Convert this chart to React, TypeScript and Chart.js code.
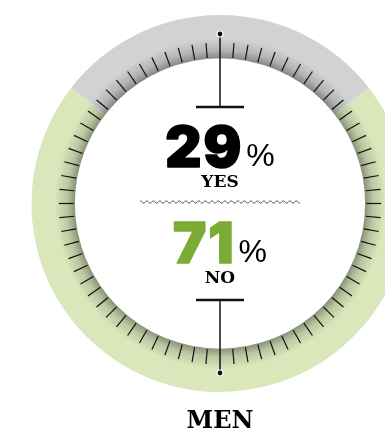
import React, { useEffect, useRef } from "react";
import { Chart, registerables } from "chart.js";
Chart.register(...registerables);

const categories = ["YES", "NO"];
const values = [29, 71];
const ringColors = ["#d1d2d4", "#d9e7bb"];
const valueColors = ["#000000", "#7aac36"];
const groupTitle = "MEN";
const tickStepDeg = 5;

export default function App() {
  const ref = useRef<HTMLCanvasElement>(null);

  useEffect(() => {
    const canvas = ref.current!;
    const total = values.reduce((a, b) => a + b, 0);
    const rotation = -((values[0] / total) * 360) / 2;

    const gaugePlugin = {
      id: "gauge",
      afterDatasetsDraw(chart: any) {
        const arc = chart.getDatasetMeta(0).data[0] as any;
        const cx = arc.x, cy = arc.y, ri = arc.innerRadius, ro = arc.outerRadius;
        const ctx = chart.ctx as CanvasRenderingContext2D;
        ctx.save();
        // inner shadow
        const sw = 20;
        const g = ctx.createRadialGradient(cx, cy, ri, cx, cy, ri + sw);
        g.addColorStop(0, "rgba(0,0,0,0.36)");
        g.addColorStop(0.4, "rgba(0,0,0,0.14)");
        g.addColorStop(1, "rgba(0,0,0,0)");
        ctx.beginPath();
        ctx.arc(cx, cy, ri + sw, 0, Math.PI * 2);
        ctx.arc(cx, cy, ri, 0, Math.PI * 2, true);
        ctx.fillStyle = g;
        ctx.fill();

        // ticks
        ctx.strokeStyle = "#111";
        ctx.lineWidth = 1.2;
        for (let a = 0; a < 360; a += tickStepDeg) {
          if (a % 180 === 0) continue;
          const t = ((a - 90) * Math.PI) / 180;
          ctx.beginPath();
          ctx.moveTo(cx + Math.cos(t) * (ri + 1), cy + Math.sin(t) * (ri + 1));
          ctx.lineTo(cx + Math.cos(t) * (ri + 16), cy + Math.sin(t) * (ri + 16));
          ctx.stroke();
        }

        // center needles
        const dotR = ro - 19;
        const barY = 96.5;
        for (const s of [-1, 1]) {
          ctx.strokeStyle = "#111";
          ctx.lineWidth = 1.5;
          ctx.beginPath();
          ctx.moveTo(cx, cy + s * dotR);
          ctx.lineTo(cx, cy + s * barY);
          ctx.stroke();
          ctx.lineWidth = 2.5;
          ctx.beginPath();
          ctx.moveTo(cx - 24, cy + s * barY);
          ctx.lineTo(cx + 24, cy + s * barY);
          ctx.stroke();
          ctx.beginPath();
          ctx.arc(cx, cy + s * dotR, 3.6, 0, Math.PI * 2);
          ctx.fillStyle = "#ffffff";
          ctx.fill();
          ctx.beginPath();
          ctx.arc(cx, cy + s * dotR, 2.4, 0, Math.PI * 2);
          ctx.fillStyle = "#111";
          ctx.fill();
        }

        // wavy divider
        ctx.strokeStyle = "#333";
        ctx.lineWidth = 0.9;
        ctx.beginPath();
        for (let x = -80; x <= 80; x += 0.5) {
          const y = cy - 1.5 + Math.sin((x / 6.5) * Math.PI * 2) * 1.1;
          if (x === -80) ctx.moveTo(cx + x, y);
          else ctx.lineTo(cx + x, y);
        }
        ctx.stroke();

        // values and labels
        const numFont = "900 56px Inter, Lato, 'DejaVu Sans'";
        const pctFont = "300 32px 'Liberation Sans', 'DejaVu Sans'";
        const drawValue = (i: number, baseline: number, labelBaseline: number) => {
          const num = String(values[i]);
          (ctx as any).letterSpacing = "2px";
          ctx.font = numFont;
          const wNum = ctx.measureText(num).width;
          (ctx as any).letterSpacing = "0px";
          ctx.font = pctFont;
          const wPct = ctx.measureText("%").width;
          const gap = 3;
          const left = cx - (wNum + gap + wPct) / 2;
          ctx.textAlign = "left";
          ctx.textBaseline = "alphabetic";
          (ctx as any).letterSpacing = "2px";
          ctx.font = numFont;
          ctx.fillStyle = valueColors[i];
          ctx.strokeStyle = valueColors[i];
          ctx.lineWidth = 1.6;
          ctx.lineJoin = "round";
          ctx.fillText(num, left, baseline);
          ctx.strokeText(num, left, baseline);
          (ctx as any).letterSpacing = "0px";
          ctx.font = pctFont;
          ctx.fillStyle = "#000";
          ctx.fillText("%", left + wNum + gap, baseline - 1);
          ctx.font = "bold 17px 'DejaVu Serif'";
          ctx.textAlign = "center";
          ctx.fillText(categories[i], cx, labelBaseline);
        };
        drawValue(0, cy - 36.5, cy - 16.5);
        drawValue(1, cy + 59.5, cy + 79.5);

        ctx.font = "bold 24px 'DejaVu Serif'";
        ctx.textAlign = "center";
        ctx.fillStyle = "#000";
        ctx.fillText(groupTitle, cx, cy + ro + 36);
        ctx.restore();
      },
    };

    const chart = new Chart(canvas, {
      type: "doughnut",
      data: {
        labels: categories,
        datasets: [
          {
            data: values,
            backgroundColor: ringColors,
            borderWidth: 0,
          },
        ],
      },
      options: {
        responsive: false,
        animation: false,
        devicePixelRatio: 1,
        rotation,
        cutout: "77%",
        layout: { padding: { left: 31, right: 31, top: 15, bottom: 40 } },
        plugins: {
          legend: { display: false },
          tooltip: { enabled: false },
          title: { display: false },
        },
      },
      plugins: [gaugePlugin],
    });
    return () => chart.destroy();
  }, []);

  return (
    <div
      style={{
        position: "absolute",
        left: 0,
        top: 0,
        width: 385,
        height: 432,
        overflow: "hidden",
        background: "#fff",
      }}
    >
      <canvas ref={ref} width={440} height={432} style={{ width: 440, height: 432, display: "block" }} />
    </div>
  );
}
